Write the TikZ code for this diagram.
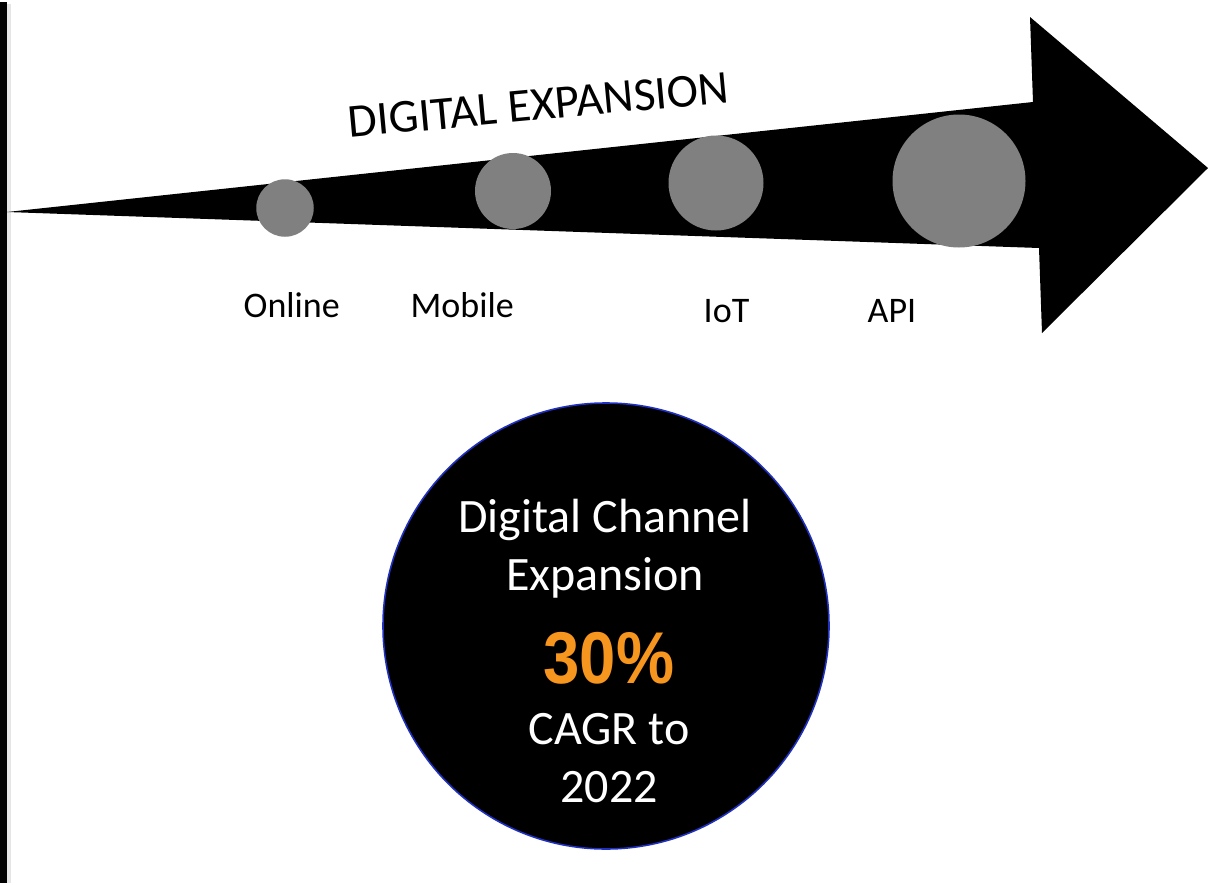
\documentclass[tikz,border=0pt]{standalone}
\usepackage{fontspec}
\usepackage{graphicx}
\usepackage{xcolor}
\usepackage{tikz}
\usetikzlibrary{positioning,shapes}
\setmainfont{Carlito}
\newfontfamily\arialfont{Liberation Sans}
\definecolor{dotgrey}{RGB}{128,128,128}
\definecolor{rimblue}{RGB}{32,48,192}
\definecolor{pctorange}{RGB}{247,150,30}
\tikzset{%
	bubble/.style   = {circle, fill=dotgrey, inner sep=0pt}, % grey stage dot
	stage/.style    = {anchor=base west, font=\fontsize{27}{30}\selectfont}, % stage name
	bigtxt/.style   = {anchor=base, text=white, font=\fontsize{36}{43}\selectfont}, % text in disc
}

\begin{document}
\begin{tikzpicture}[x=0.75pt,y=-0.75pt]
	\useasboundingbox (0,0) rectangle (1208,885);
	% left rule with its soft edge
	\fill[black!10] (7,4) rectangle (11,883);
	\fill (0,2) rectangle (7,883);
	
	% the big arrow
	\fill (7,212) -- (1033,102) -- (1030,17) -- (1208,168) -- (1042,333) -- (1039,248) -- cycle;
	\node[anchor=base,rotate=5.3,font=\fontsize{35.5}{40}\selectfont] (title) at (540,120) {DIGITAL EXPANSION};
	
	% growing dots along the arrow
	\node[bubble,minimum size=57.5*0.75pt] (Online) at (285,208) {};
	\node[bubble,minimum size=76*0.75pt] (Mobile) at (513,191) {};
	\node[bubble,minimum size=95*0.75pt] (IoT) at (716,183) {};
	\node[bubble,minimum size=133*0.75pt] (API) at (959,181) {};
	
	\node[stage] (OnlineTxt) at (239,317) {Online};
	\node[stage] (MobileTxt) at (406,317) {Mobile};
	\node[stage] (IoTTxt) at (699,322) {IoT};
	\node[stage] (APITxt) at (863,322) {API};
	
	% summary disc
	\node[circle,fill=black,draw=rimblue,line width=1.2pt,minimum size=446*0.75pt] (disc) at (606,626) {};
	\node[bigtxt] (line1) at (605,532) {Digital Channel};
	\node[bigtxt] (line2) at (605,590) {Expansion};
	\node[anchor=base,text=pctorange,font=\arialfont\bfseries\fontsize{55}{60}\selectfont] (pct) at (609,683) {\scalebox{0.89}[1]{30\%}};
	\node[bigtxt] (line3) at (609,744) {CAGR to};
	\node[bigtxt] (line4) at (609,802) {2022};
\end{tikzpicture}
\end{document}
